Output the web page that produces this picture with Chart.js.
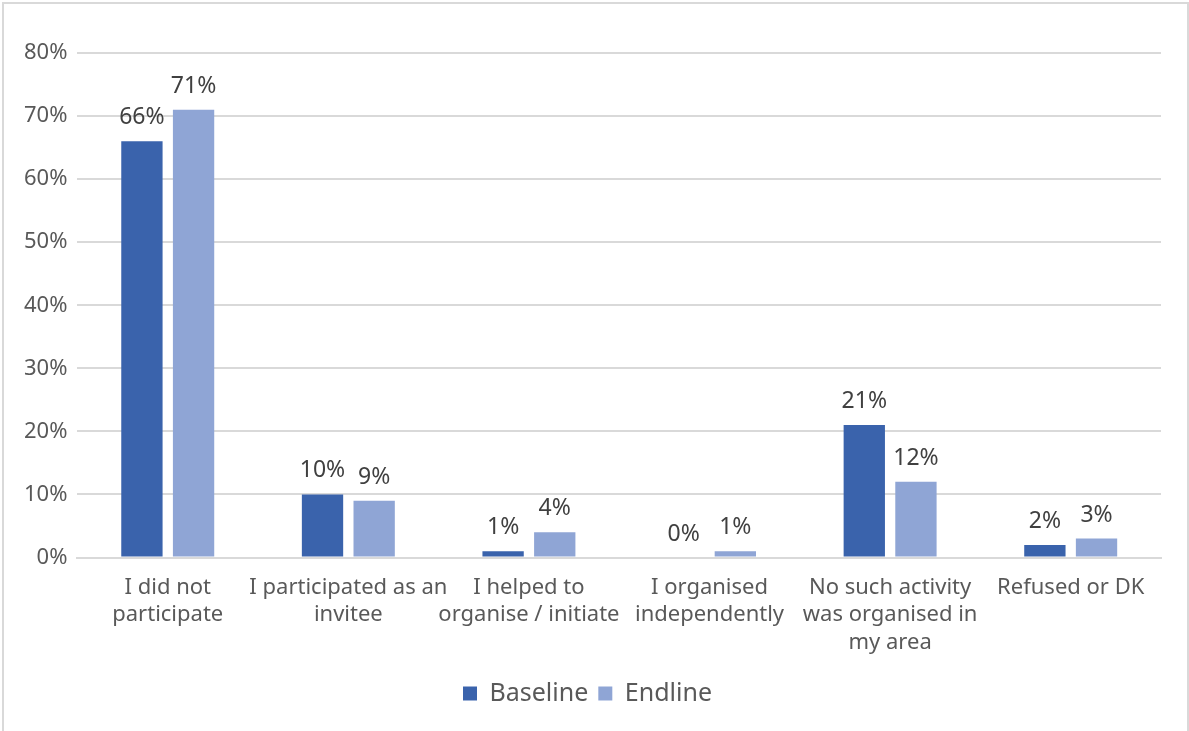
<!DOCTYPE html>
<html>
<head>
<meta charset="utf-8">
<script src="https://cdn.jsdelivr.net/npm/chart.js@4"></script>
<style>
  body { margin: 0; background: #fff; }
  #frame {
    position: absolute; left: 2px; top: 2px;
    width: 1183px; height: 760px;
    border: 2px solid #d9d9d9; background: #fff;
  }
</style>
</head>
<body>
<div id="frame"><canvas id="myChart" width="1183" height="727"></canvas></div>
<script>
const categories = [
  ['I did not', 'participate'],
  ['I participated as an', 'invitee'],
  ['I helped to', 'organise / initiate'],
  ['I organised', 'independently'],
  ['No such activity', 'was organised in', 'my area'],
  ['Refused or DK'],
];
const baseline = [66, 10, 1, 0, 21, 2];
const endline = [71, 9, 4, 1, 12, 3];
const yTicks = [0, 10, 20, 30, 40, 50, 60, 70, 80];

const FONT = 'Noto Sans';

// draws the value labels above each bar
const barLabels = {
  id: 'barLabels',
  afterDatasetsDraw(chart) {
    const ctx = chart.ctx;
    ctx.save();
    ctx.font = '23px "' + FONT + '"';
    ctx.fillStyle = '#404040';
    ctx.textAlign = 'center';
    ctx.textBaseline = 'alphabetic';
    chart.data.datasets.forEach((ds, i) => {
      chart.getDatasetMeta(i).data.forEach((bar, j) => {
        ctx.fillText(ds.data[j] + '%', bar.x, bar.y - 17);
      });
    });
    ctx.restore();
  }
};

const data = {
  labels: categories,
  datasets: [{
    label: 'Baseline',
    backgroundColor: '#3A63AC',
    data: baseline,
  }, {
    label: 'Endline',
    backgroundColor: '#8FA5D5',
    data: endline,
  }]
};

const config = {
  type: 'bar',
  data: data,
  plugins: [barLabels],
  options: {
    responsive: false,
    animation: false,
    categoryPercentage: 0.572,
    barPercentage: 0.8,
    layout: { padding: { top: 49, right: 26, left: 10, bottom: 15 } },
    plugins: {
      legend: {
        position: 'bottom',
        labels: {
          boxWidth: 14, boxHeight: 14,
          color: '#595959',
          font: { family: FONT, size: 25 },
          padding: 10,
        }
      },
      tooltip: { enabled: false },
    },
    scales: {
      x: {
        grid: { display: false },
        border: { color: '#d9d9d9', width: 2 },
        afterFit(axis) { axis.height += 7; },
        ticks: {
          color: '#595959',
          font: { family: FONT, size: 22, lineHeight: 1.25 },
          padding: 8,
          maxRotation: 0,
          autoSkip: false,
        }
      },
      y: {
        min: 0, max: 80,
        afterBuildTicks(axis) { axis.ticks = yTicks.map(v => ({ value: v })); },
        grid: { color: '#d9d9d9', lineWidth: 2, drawTicks: false },
        border: { display: false },
        ticks: {
          color: '#595959',
          font: { family: FONT, size: 22 },
          padding: 10,
          callback: v => v + '%',
        }
      }
    }
  }
};

const myChart = new Chart(document.getElementById('myChart'), config);
</script>
</body>
</html>
